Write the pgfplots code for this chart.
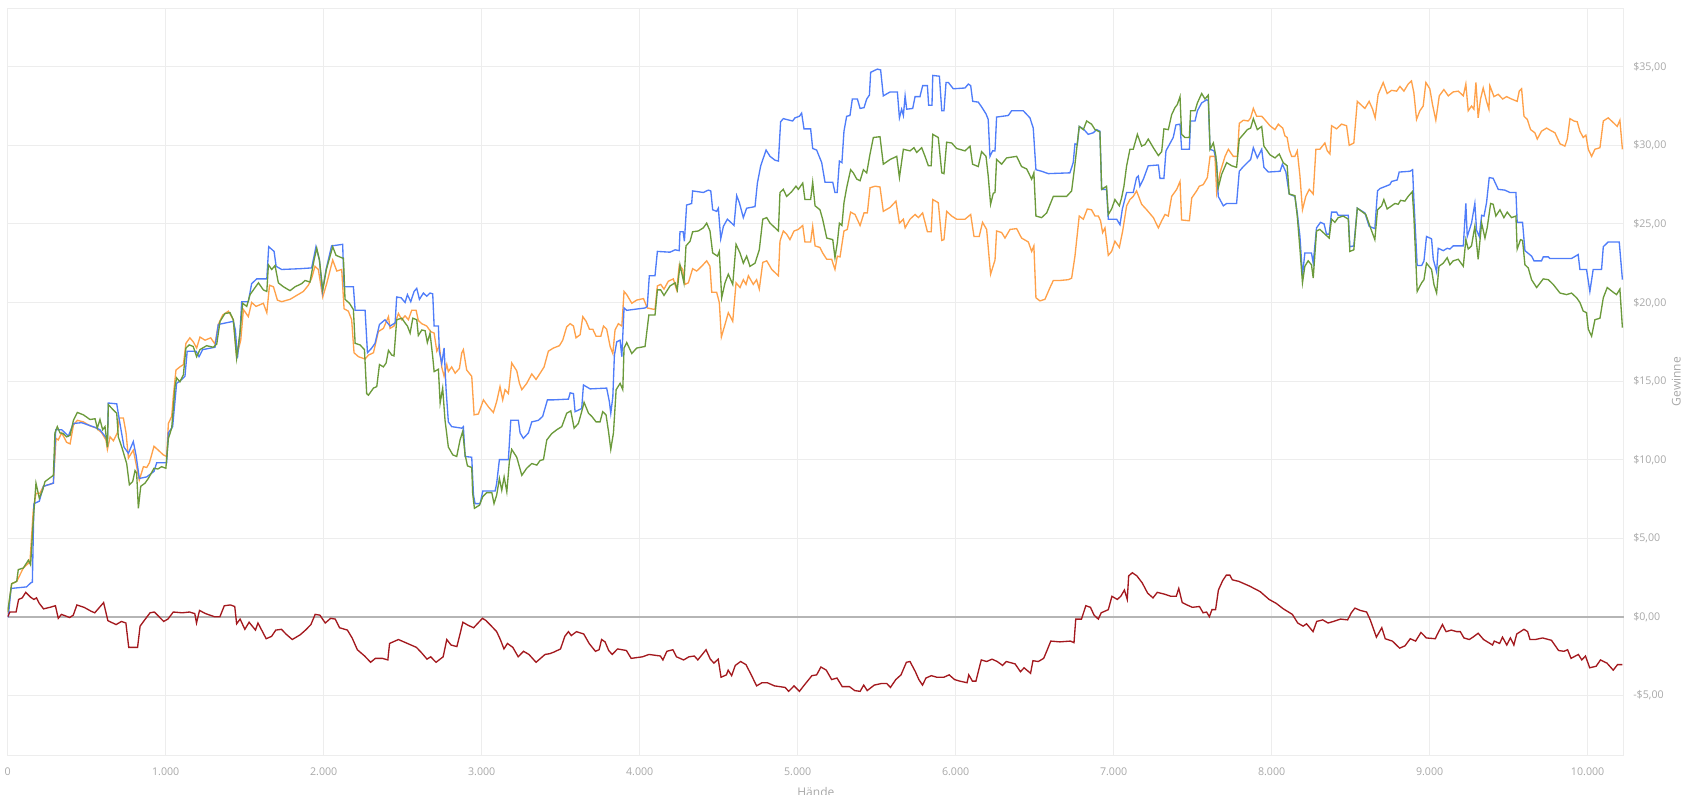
\documentclass[border=0pt]{standalone}
\usepackage{pgfplots}
\pgfplotsset{compat=1.18}
\usepackage{pgfplotstable}
\usepackage{fontspec}
\setmainfont{Open Sans}
\definecolor{cblue}{HTML}{4F7DF9}
\definecolor{corange}{HTML}{FFA14A}
\definecolor{cgreen}{HTML}{6B9A3B}
\definecolor{cred}{HTML}{A3191E}
\definecolor{czero}{HTML}{B5B5B5}
\definecolor{cgrid}{HTML}{EDEDED}
\definecolor{ctext}{HTML}{A8A8A8}

\pgfplotstableread{
x y
0 0
4 0
21 1.8
120 1.9
145 2.15
156 2.2
166 7.2
200 7.35
226 8.3
289 8.5
304 11.9
342 11.9
384 11.5
416 12.3
468 12.35
553 12.05
584 11.9
622 11.4
631 11.05
637 13.6
690 13.55
707 12.5
736 10.8
764 10.4
795 11.15
812 10.3
833 8.8
880 8.9
926 9.25
943 9.8
1006 9.8
1017 11.7
1044 12.1
1069 14.85
1101 15.1
1122 15.3
1136 16.9
1192 16.9
1211 16.55
1234 17.0
1312 17.15
1333 18.6
1428 18.8
1441 18.25
1454 16.45
1470 18.05
1481 20.05
1523 20.05
1544 21.2
1576 21.5
1640 21.5
1652 23.55
1686 23.25
1699 22.3
1734 22.1
1850 22.15
1924 22.2
1951 23.55
1973 22.7
1992 20.7
2015 22.1
2050 23.6
2120 23.7
2129 21.0
2188 21.0
2199 19.5
2262 19.5
2277 16.8
2304 17.1
2325 17.4
2353 18.6
2388 18.9
2420 18.5
2452 18.7
2462 20.35
2490 20.3
2515 20.0
2530 20.5
2551 20.05
2572 20.7
2589 20.9
2606 20.2
2631 20.6
2652 20.4
2673 20.6
2690 20.55
2699 18.5
2726 18.5
2732 16.9
2747 16.1
2762 17.1
2775 14.4
2789 12.4
2810 12.1
2874 12.0
2884 12.1
2895 10.2
2937 10.15
2948 7.75
2958 7.2
2990 7.2
3007 8.0
3085 8.0
3095 8.5
3112 10.0
3169 10.0
3184 12.5
3232 12.5
3243 11.7
3264 11.35
3296 11.7
3317 12.4
3359 12.5
3386 12.75
3416 13.8
3450 13.8
3549 13.85
3560 14.25
3581 14.2
3591 13.05
3633 13.25
3644 14.75
3686 14.5
3791 14.55
3808 13.7
3817 12.95
3830 14.0
3840 16.65
3855 17.5
3876 17.6
3887 16.55
3901 19.65
3918 19.5
4034 19.65
4048 19.75
4061 21.7
4097 21.7
4112 23.25
4192 23.2
4224 23.35
4250 23.3
4255 24.5
4275 24.5
4283 23.9
4297 26.2
4329 26.3
4335 27.1
4403 27.0
4434 27.15
4450 27.1
4462 25.9
4487 25.8
4498 26.0
4513 24.05
4530 24.85
4555 25.3
4582 25.05
4597 24.9
4614 26.8
4631 26.35
4656 25.4
4677 26.0
4730 26.1
4745 27.6
4766 28.7
4800 29.7
4825 29.3
4857 29.05
4878 29.0
4892 31.5
4909 31.7
4968 31.55
4983 31.75
5011 31.85
5025 32.05
5040 31.05
5082 31.05
5095 29.8
5120 29.7
5152 28.9
5173 27.65
5222 27.65
5236 27.0
5250 27.0
5264 29.0
5280 28.9
5293 30.9
5310 31.85
5331 31.9
5346 32.95
5378 32.95
5395 32.35
5420 32.4
5437 32.95
5454 33.2
5462 34.65
5504 34.85
5525 34.8
5542 33.15
5585 33.4
5631 33.4
5644 31.75
5658 32.3
5669 31.9
5680 33.15
5690 32.3
5728 32.35
5743 33.1
5774 33.1
5791 33.8
5821 33.8
5829 32.55
5850 32.55
5855 34.45
5897 34.4
5912 32.2
5926 32.2
5939 34.0
5954 34.0
5985 33.6
6059 33.65
6080 33.9
6095 33.8
6108 32.8
6143 32.75
6164 32.45
6192 32.0
6206 31.65
6217 29.3
6234 29.65
6249 29.65
6259 31.8
6333 31.9
6354 32.2
6428 32.2
6470 31.75
6491 31.1
6508 28.45
6544 28.35
6586 28.2
6723 28.25
6744 28.9
6755 30.1
6770 30.05
6782 31.2
6808 31.05
6839 30.7
6871 30.8
6892 31.0
6913 30.9
6924 27.2
6955 27.2
6966 25.3
7019 25.3
7040 24.95
7055 25.95
7082 27.0
7124 27.0
7145 27.95
7156 28.05
7166 27.4
7188 27.85
7219 28.7
7283 28.75
7293 27.9
7318 27.9
7331 29.65
7377 30.5
7394 31.3
7420 31.35
7430 29.75
7479 29.75
7487 31.55
7515 31.55
7530 32.2
7557 32.7
7588 32.9
7599 32.85
7610 29.75
7635 29.65
7652 28.9
7662 26.75
7694 26.15
7715 26.3
7778 26.3
7795 28.35
7821 28.65
7846 28.9
7867 29.1
7884 29.85
7909 29.2
7937 29.75
7951 28.6
7979 28.3
8053 28.35
8068 28.8
8090 28.3
8111 26.9
8147 26.75
8162 25.7
8179 24.2
8195 21.7
8210 23.15
8252 23.15
8263 22.5
8284 24.75
8309 25.1
8332 25.0
8347 24.35
8364 24.35
8379 25.75
8411 25.75
8421 25.55
8485 25.55
8495 23.55
8520 23.6
8542 26.0
8590 25.7
8617 24.85
8653 24.7
8670 27.1
8685 27.25
8723 27.4
8748 27.5
8759 27.7
8795 27.8
8807 28.3
8875 28.35
8892 28.45
8900 26.55
8921 22.35
8949 22.35
8964 22.65
8980 24.2
9012 24.05
9023 22.75
9044 21.95
9054 23.45
9086 23.3
9111 23.45
9128 23.4
9149 23.6
9213 23.6
9229 26.3
9238 24.2
9265 25.05
9286 26.3
9297 24.6
9314 24.2
9329 25.55
9344 25.5
9360 26.35
9377 27.95
9402 27.9
9434 27.2
9476 27.15
9508 27.0
9546 27.0
9554 25.1
9588 25.1
9603 23.3
9645 22.95
9660 22.65
9708 22.65
9719 22.9
9751 22.9
9761 22.8
9898 22.8
9940 23.05
9951 22.1
9993 22.1
10014 20.7
10035 22.1
10088 22.1
10099 23.55
10130 23.85
10200 23.85
10220 21.45
}\tblue

\pgfplotstableread{
x y
0 0.3
25 2.1
57 2.25
67 3.0
99 3.1
131 3.6
145 3.3
162 6.15
179 8.5
200 7.55
221 8.05
236 8.6
289 9.0
299 11.7
314 12.1
331 11.7
352 11.65
373 11.45
395 11.55
416 12.5
441 13.0
479 12.85
521 12.55
553 12.6
567 12.0
584 12.55
601 11.9
616 12.1
631 10.8
637 13.5
669 13.15
690 12.95
700 11.45
722 10.8
753 9.75
770 8.4
791 8.6
806 9.3
816 9.15
827 6.9
842 8.3
869 8.5
890 8.8
926 9.45
950 9.4
974 9.55
1001 9.45
1017 11.35
1038 12.0
1059 14.65
1069 15.2
1090 14.95
1112 15.4
1128 17.1
1149 17.3
1174 17.2
1196 16.55
1217 17.0
1259 17.25
1301 17.15
1323 17.35
1344 18.8
1375 19.3
1407 19.35
1428 18.9
1449 16.45
1470 18.05
1487 19.95
1513 19.75
1534 20.5
1555 20.8
1587 21.25
1618 20.8
1640 20.7
1650 22.4
1671 22.1
1692 22.35
1713 21.25
1745 21.0
1787 20.75
1819 21.0
1861 21.2
1882 21.4
1913 21.3
1939 22.7
1956 23.45
1973 22.7
1994 20.8
2017 22.1
2057 23.55
2078 23.0
2125 22.8
2135 20.2
2163 19.95
2188 19.55
2199 17.4
2230 17.3
2258 17.0
2272 14.2
2283 14.1
2315 14.55
2336 14.65
2353 16.05
2378 15.9
2395 16.15
2410 16.95
2431 16.65
2445 16.6
2462 18.9
2494 19.0
2515 18.7
2530 18.5
2547 18.05
2564 19.0
2589 18.9
2599 17.9
2621 18.25
2642 18.2
2656 17.45
2673 18.05
2690 16.55
2699 15.6
2726 15.75
2737 13.6
2753 14.55
2768 12.5
2789 10.8
2817 10.3
2842 10.2
2863 11.25
2880 11.8
2895 10.3
2910 9.6
2937 9.5
2943 7.85
2954 6.9
2986 7.1
3007 7.65
3032 7.9
3064 7.9
3078 7.2
3095 7.75
3112 8.8
3127 8.05
3142 8.9
3159 7.95
3175 9.85
3190 10.65
3222 10.15
3254 9.0
3285 9.45
3317 9.75
3349 9.65
3370 9.95
3391 10.0
3412 11.25
3443 11.65
3475 11.9
3507 12.1
3538 12.95
3564 13.1
3585 12.0
3612 12.3
3633 13.05
3648 13.65
3676 12.95
3697 12.75
3724 12.4
3749 12.4
3766 13.05
3787 12.85
3804 11.7
3817 10.65
3834 11.7
3851 14.45
3876 14.85
3893 14.45
3901 17.1
3918 17.45
3950 16.75
3981 17.1
4034 17.2
4058 19.2
4097 19.2
4112 20.8
4133 20.8
4154 20.45
4192 21.05
4224 21.25
4238 20.8
4255 22.4
4280 21.25
4293 23.6
4319 23.9
4335 24.5
4371 24.55
4403 24.75
4424 25.05
4445 24.55
4462 23.15
4492 22.95
4504 23.25
4519 20.3
4540 21.25
4561 21.8
4589 21.15
4610 23.7
4635 23.15
4656 22.5
4677 22.95
4698 22.3
4730 22.5
4757 23.35
4779 25.3
4804 25.4
4825 25.05
4878 24.55
4888 27.0
4909 27.2
4930 26.75
4962 27.05
4989 27.4
5004 27.2
5032 27.6
5046 26.55
5082 26.55
5095 27.65
5110 26.15
5141 25.9
5158 25.3
5184 24.1
5222 24.0
5236 22.85
5251 23.8
5264 25.05
5280 24.9
5293 26.35
5310 27.3
5335 28.45
5352 28.25
5374 27.85
5395 27.75
5416 28.45
5437 28.25
5458 29.45
5479 30.5
5521 30.55
5542 28.8
5585 29.1
5627 29.3
5644 27.95
5669 29.75
5711 29.65
5736 29.85
5753 29.55
5785 29.85
5806 29.3
5827 28.7
5845 28.7
5855 30.7
5890 30.5
5912 28.25
5926 28.2
5943 30.2
5975 30.15
6006 29.8
6059 29.65
6091 29.95
6107 28.8
6143 28.65
6164 29.6
6192 29.3
6206 28.05
6221 26.25
6238 26.95
6249 27.0
6259 29.1
6291 28.8
6322 29.2
6386 29.3
6417 28.65
6449 28.5
6481 27.85
6495 28.25
6508 25.5
6544 25.4
6576 25.7
6618 26.75
6660 26.75
6702 26.75
6734 27.1
6755 28.8
6782 31.2
6808 31.0
6829 31.55
6860 31.35
6882 31.0
6913 30.85
6924 27.2
6955 27.4
6966 25.6
6987 25.95
7008 26.55
7036 26.15
7050 26.65
7065 27.4
7082 28.7
7103 29.75
7124 29.75
7150 30.7
7177 29.95
7198 30.05
7219 30.4
7251 29.85
7283 29.35
7304 29.6
7318 31.05
7346 31.0
7367 31.95
7388 32.4
7403 32.6
7420 33.1
7430 30.7
7451 30.5
7479 30.5
7487 32.2
7515 32.2
7530 32.7
7557 33.3
7578 32.95
7599 33.2
7610 29.75
7631 30.15
7647 29.3
7662 27.3
7683 28.15
7715 28.9
7747 28.7
7778 28.6
7795 30.4
7821 30.7
7846 31.0
7867 31.1
7884 31.7
7909 31.0
7937 31.2
7951 29.95
7989 29.4
8021 29.2
8048 29.45
8073 28.9
8098 28.7
8111 26.9
8147 26.8
8162 25.5
8179 23.4
8195 21.25
8210 22.3
8231 22.65
8252 22.4
8263 21.55
8284 24.55
8305 24.65
8337 24.35
8364 24.1
8379 25.3
8400 25.1
8421 25.4
8453 25.5
8485 25.3
8495 23.25
8520 23.35
8542 26.0
8569 25.8
8596 25.6
8622 24.85
8653 24.0
8670 25.9
8696 26.15
8710 26.55
8731 25.95
8759 26.15
8780 26.3
8801 26.25
8816 26.5
8843 26.45
8864 26.75
8890 27.05
8900 25.5
8921 20.7
8949 21.25
8964 21.45
8980 22.5
9012 22.1
9027 21.15
9044 20.6
9059 22.3
9086 22.5
9111 22.85
9128 22.4
9149 22.65
9181 22.75
9213 22.3
9229 24.0
9244 23.4
9265 23.6
9286 24.85
9307 22.75
9329 25.05
9350 24.1
9364 24.75
9386 26.3
9402 26.25
9419 25.5
9445 25.9
9470 25.4
9491 25.75
9518 25.4
9546 25.5
9554 23.4
9575 24.0
9588 23.95
9603 22.4
9624 22.2
9645 21.45
9677 20.95
9719 21.5
9751 21.45
9782 21.15
9825 20.6
9867 20.5
9898 20.6
9930 20.3
9951 20.0
9972 19.45
9993 19.35
10004 18.3
10025 17.85
10046 18.9
10078 19.0
10099 20.3
10124 20.95
10162 20.65
10183 20.5
10204 20.85
10220 18.4
}\tgreen

\pgfplotstableread{
x y
0 0.2
25 2.1
57 2.25
99 3.1
141 3.5
162 6.8
179 7.85
204 7.85
226 8.3
289 8.5
306 11.35
320 11.25
342 11.7
373 11.1
395 11.0
416 12.2
441 12.5
479 12.4
521 12.15
563 12.0
595 11.7
622 11.25
631 10.65
648 11.45
669 11.2
694 11.7
707 12.65
732 12.65
749 11.7
764 10.1
795 10.6
816 9.55
833 8.7
859 9.55
880 9.5
897 9.8
926 10.85
953 10.6
985 10.3
1006 10.2
1017 12.3
1038 12.75
1048 14.0
1065 15.7
1090 15.9
1112 16.05
1128 17.4
1153 17.75
1174 17.5
1196 17.1
1217 17.8
1249 17.6
1285 17.75
1312 17.35
1333 18.6
1361 19.2
1397 19.45
1428 18.9
1449 16.55
1475 17.6
1492 19.55
1523 19.1
1544 20.0
1572 19.75
1618 19.95
1640 19.35
1657 21.1
1682 21.0
1707 20.15
1734 20.05
1787 20.2
1829 20.45
1871 20.7
1903 21.1
1924 21.55
1945 22.3
1966 22.1
1994 20.35
2019 21.2
2057 22.7
2083 22.0
2114 22.1
2129 19.6
2156 19.45
2177 18.9
2192 16.8
2220 16.55
2262 16.4
2283 16.65
2315 16.8
2346 18.15
2378 18.35
2410 19.1
2420 18.35
2445 18.5
2473 19.3
2494 18.9
2515 19.15
2536 18.9
2557 19.5
2585 19.5
2599 18.85
2621 18.65
2652 18.5
2677 18.15
2699 18.05
2716 16.9
2732 17.25
2747 15.9
2762 15.3
2779 16.05
2789 15.6
2810 15.9
2832 15.5
2859 15.8
2874 16.8
2884 17.0
2905 15.7
2937 15.3
2952 12.85
2979 12.9
3011 13.8
3043 13.35
3074 13.0
3095 13.7
3116 14.65
3133 13.8
3148 14.45
3169 14.2
3190 16.15
3222 15.65
3239 14.85
3254 14.45
3285 14.85
3317 15.45
3344 15.1
3370 15.5
3395 15.9
3422 16.9
3454 17.1
3492 17.25
3513 17.6
3538 18.45
3560 18.65
3581 18.5
3597 17.75
3623 17.95
3640 19.1
3661 18.8
3682 18.3
3703 18.3
3724 17.85
3754 17.85
3771 18.5
3791 18.3
3813 17.2
3830 16.75
3844 18.25
3865 18.65
3887 18.5
3901 20.7
3918 20.5
3950 19.95
3981 20.15
4024 20.25
4048 19.65
4097 19.55
4112 21.05
4133 21.15
4154 20.85
4181 21.35
4213 21.5
4234 20.8
4251 22.4
4272 22.1
4287 21.15
4308 21.25
4335 22.15
4361 22.0
4392 22.3
4424 22.65
4445 22.3
4456 20.65
4487 20.65
4504 20.0
4517 17.8
4540 18.6
4561 19.35
4589 18.8
4610 21.25
4635 20.95
4656 21.45
4673 21.15
4688 21.7
4719 21.15
4740 21.45
4757 20.85
4779 22.55
4804 22.65
4836 22.1
4878 21.7
4888 23.9
4909 24.55
4930 24.35
4951 24.0
4977 24.55
5004 24.65
5032 24.9
5046 23.85
5082 23.85
5095 24.85
5110 23.6
5141 23.5
5158 23.15
5184 22.75
5215 22.75
5236 22.1
5251 22.95
5268 22.9
5293 24.55
5314 24.65
5335 25.75
5363 25.6
5395 24.9
5420 25.7
5441 25.7
5458 27.3
5490 27.4
5521 27.35
5542 25.8
5585 26.05
5622 26.45
5644 25.05
5669 25.3
5680 24.75
5711 25.3
5743 25.6
5764 25.4
5791 25.7
5821 24.5
5845 24.5
5855 26.55
5890 26.35
5912 23.95
5926 24.0
5943 25.8
5975 25.5
6006 25.3
6059 25.3
6095 25.6
6116 24.2
6149 24.2
6170 25.1
6196 24.65
6221 21.8
6249 22.7
6259 24.55
6291 24.45
6312 24.1
6344 24.65
6386 24.7
6417 24.1
6460 23.85
6481 23.25
6495 23.6
6508 20.3
6533 20.1
6565 20.2
6597 20.95
6618 21.4
6660 21.4
6713 21.45
6734 21.55
6755 22.95
6782 25.5
6808 25.3
6833 25.95
6860 25.9
6882 25.5
6903 25.5
6917 25.2
6930 24.45
6945 24.75
6966 23.0
6987 23.25
7008 23.9
7036 23.5
7057 24.55
7082 26.15
7103 26.55
7124 26.75
7145 27.1
7177 26.25
7209 25.9
7251 25.4
7283 24.75
7304 25.2
7325 25.6
7346 25.5
7367 26.75
7399 27.2
7420 27.7
7430 25.25
7479 25.2
7494 26.65
7525 27.1
7542 27.4
7567 27.5
7593 27.95
7610 29.3
7641 29.3
7652 27.0
7673 28.25
7705 29.3
7726 29.75
7757 29.3
7783 29.3
7795 31.4
7821 31.6
7852 31.55
7867 31.75
7884 32.35
7905 31.85
7937 31.85
7951 31.7
7989 31.25
8021 31.0
8042 31.35
8052 31.25
8070 31.1
8084 30.6
8098 30.5
8111 29.75
8126 29.3
8147 29.3
8162 29.65
8179 28.05
8195 25.9
8216 26.75
8238 27.2
8263 26.9
8280 29.75
8305 29.75
8337 30.15
8352 29.65
8369 29.45
8379 31.25
8411 31.05
8442 31.35
8474 31.25
8491 30.0
8520 30.15
8542 32.8
8590 32.35
8617 32.8
8639 32.3
8655 31.75
8674 33.25
8706 34.0
8731 33.3
8759 33.5
8791 33.45
8812 33.75
8837 33.45
8864 33.9
8885 34.1
8900 33.35
8917 31.65
8938 32.2
8959 32.5
8976 34.0
9001 33.6
9018 32.6
9039 31.6
9061 33.15
9090 33.55
9118 33.15
9149 33.4
9181 33.45
9213 33.15
9229 33.9
9244 32.2
9265 32.5
9280 32.3
9293 34.0
9307 31.75
9322 32.95
9339 33.65
9360 32.8
9375 32.3
9381 33.8
9407 33.1
9434 33.25
9462 32.95
9487 33.1
9518 32.95
9554 32.8
9567 33.45
9582 33.6
9597 31.85
9618 31.65
9639 31.0
9666 30.8
9681 30.4
9708 30.9
9740 31.1
9765 30.95
9793 30.8
9825 30.1
9856 29.95
9871 30.4
9888 31.7
9913 31.55
9934 31.5
9951 30.9
9972 30.5
9989 30.65
10004 29.75
10025 29.3
10046 29.75
10078 29.85
10099 31.55
10130 31.75
10162 31.45
10187 31.2
10204 31.6
10220 29.75
}\torange

\pgfplotstableread{
x y
0 0
14 0.3
53 0.3
69 1.1
92 1.2
114 1.55
144 1.25
166 1.1
182 1.2
200 0.85
227 0.5
268 0.6
302 0.7
320 -0.1
340 0.15
392 -0.05
415 0.1
438 0.75
483 0.6
528 0.35
551 0.25
607 0.9
634 -0.25
686 -0.5
720 -0.3
748 -0.4
766 -1.95
822 -1.95
838 -0.6
867 -0.2
901 0.25
928 0.3
958 0
987 -0.3
1014 -0.15
1048 0.3
1105 0.25
1150 0.3
1184 0.2
1195 -0.4
1214 0.4
1252 0.2
1309 0
1343 0
1371 0.7
1410 0.75
1437 0.65
1449 -0.45
1471 -0.15
1501 -0.8
1528 -0.35
1568 -0.85
1584 -0.4
1636 -1.4
1670 -1.25
1697 -0.85
1733 -0.8
1761 -1.1
1801 -1.45
1851 -1.15
1885 -0.85
1919 -0.5
1946 0.15
1976 0.1
2010 -0.4
2044 -0.1
2073 -0.15
2100 -0.7
2150 -0.85
2180 -1.35
2213 -2.1
2259 -2.5
2297 -2.9
2327 -2.65
2372 -2.65
2406 -2.75
2417 -1.7
2473 -1.45
2530 -1.7
2587 -1.95
2620 -2.3
2654 -2.7
2677 -2.55
2711 -2.9
2756 -2.55
2779 -1.45
2806 -1.8
2843 -1.9
2858 -1.3
2881 -0.35
2915 -0.55
2949 -0.7
3005 -0.1
3028 -0.25
3062 -0.6
3095 -0.95
3118 -1.45
3141 -2.05
3163 -1.7
3197 -1.95
3231 -2.55
3265 -2.2
3299 -2.4
3344 -2.9
3401 -2.4
3431 -2.35
3457 -2.25
3499 -2.05
3526 -1.25
3549 -0.95
3567 -1.2
3600 -0.95
3646 -1.1
3680 -1.7
3720 -2.2
3743 -2.1
3759 -1.45
3781 -1.6
3804 -2.15
3826 -2.4
3860 -2.05
3916 -2.15
3946 -2.65
4018 -2.55
4059 -2.4
4131 -2.5
4147 -2.75
4172 -2.2
4210 -2.1
4233 -2.55
4278 -2.75
4312 -2.55
4346 -2.5
4368 -2.75
4420 -2.1
4447 -2.7
4470 -2.95
4497 -2.7
4515 -3.85
4549 -3.7
4560 -3.4
4582 -3.75
4605 -3.1
4639 -2.85
4673 -3.05
4706 -3.7
4740 -4.4
4774 -4.2
4808 -4.2
4853 -4.4
4921 -4.5
4943 -4.75
4977 -4.4
5011 -4.75
5034 -4.45
5090 -3.75
5120 -3.7
5147 -3.2
5181 -3.4
5215 -4.0
5249 -3.9
5282 -4.45
5328 -4.45
5361 -4.7
5395 -4.75
5418 -4.35
5440 -4.7
5485 -4.35
5530 -4.25
5564 -4.25
5587 -4.5
5621 -4.0
5654 -3.7
5688 -2.9
5711 -2.85
5745 -3.5
5767 -4.0
5790 -4.35
5812 -3.9
5846 -3.75
5880 -3.85
5925 -3.85
5959 -3.7
5993 -4.0
6027 -4.1
6072 -4.2
6083 -3.7
6106 -4.1
6128 -4.1
6162 -2.75
6196 -2.85
6230 -2.7
6263 -2.85
6297 -3.1
6320 -2.85
6376 -3.0
6410 -3.5
6433 -3.25
6474 -3.6
6489 -2.8
6523 -2.85
6557 -2.65
6580 -2.1
6602 -1.55
6659 -1.6
6726 -1.55
6749 -1.65
6760 -0.15
6796 -0.15
6824 0.7
6853 0.6
6876 0.1
6903 -0.15
6921 0.25
6966 0.45
6989 1.3
7023 1.1
7045 1.3
7068 1.7
7086 1.1
7095 2.6
7118 2.8
7147 2.6
7181 2.15
7215 1.5
7249 1.2
7276 1.55
7317 1.45
7362 1.3
7396 1.3
7412 1.8
7434 0.9
7464 0.75
7498 0.6
7543 0.65
7566 0.25
7588 0.3
7606 0
7622 0.45
7645 0.45
7663 1.7
7690 2.3
7713 2.65
7735 2.65
7751 2.35
7792 2.25
7860 1.95
7927 1.6
7984 1.1
8029 0.85
8074 0.5
8131 0.15
8165 -0.4
8199 -0.6
8221 -0.45
8262 -0.95
8285 -0.3
8323 -0.2
8357 -0.4
8391 -0.3
8436 -0.15
8481 -0.2
8504 0.25
8527 0.55
8561 0.4
8601 0.3
8624 -0.2
8663 -1.3
8697 -0.7
8719 -1.4
8764 -1.55
8810 -2.0
8844 -1.85
8877 -1.4
8911 -1.55
8945 -1.0
8979 -1.35
9036 -1.4
9047 -1.15
9081 -0.5
9104 -0.95
9137 -0.85
9172 -0.95
9194 -0.95
9217 -1.35
9251 -1.45
9274 -1.3
9307 -1.05
9341 -1.45
9398 -1.8
9409 -1.55
9443 -1.7
9461 -1.3
9488 -1.8
9511 -1.35
9533 -1.8
9551 -1.1
9597 -0.8
9620 -0.95
9635 -1.45
9669 -1.45
9715 -1.35
9771 -1.5
9816 -2.15
9850 -2.2
9873 -2.1
9895 -2.65
9941 -2.4
9963 -2.75
9986 -2.5
10013 -3.25
10054 -3.15
10081 -2.75
10122 -2.95
10162 -3.4
10189 -3.05
10220 -3.05
}\tred

\begin{document}
\begin{tikzpicture}
\begin{axis}[
  name=main,
  at={(0,0)}, anchor=south west,
  scale only axis,
  width=1212.2pt, height=560pt,
  xmin=0, xmax=10230,
  ymin=-8.8, ymax=38.72,
  axis line style={cgrid, line width=0.75pt},
  major tick length=0pt,
  grid=major,
  grid style={cgrid, line width=0.75pt},
  xtick={0,1000,2000,3000,4000,5000,6000,7000,8000,9000,10000},
  xticklabels={0,1.000,2.000,3.000,4.000,5.000,6.000,7.000,8.000,9.000,10.000},
  ytick={-5,0,5,10,15,20,25,30,35},
  yticklabels={{-\$5,00},{\$0,00},{\$5,00},{\$10,00},{\$15,00},{\$20,00},{\$25,00},{\$30,00},{\$35,00}},
  yticklabel pos=right,
  tick label style={font=\fontsize{8}{9.6}\selectfont, text=ctext},
  xticklabel style={anchor=base, inner sep=0pt, yshift=-15.6pt},
  yticklabel style={anchor=mid west, inner sep=0pt, xshift=6.75pt},
  extra y ticks={0},
  extra y tick labels={},
  extra y tick style={grid style={czero, line width=1.3pt}},
  clip=true,
]
\addplot[corange, line width=1pt] table[x=x,y=y] {\torange};
\addplot[cblue, line width=1pt] table[x=x,y=y] {\tblue};
\addplot[cgreen, line width=1pt] table[x=x,y=y] {\tgreen};
\addplot[cred, line width=1pt] table[x=x,y=y] {\tred};
\end{axis}
\node[xshift=42.5pt, rotate=90, anchor=base, inner sep=0pt, text=ctext, font=\fontsize{9}{10.8}\selectfont] at (main.east) {Gewinne};
\node[yshift=-31.2pt, anchor=base, inner sep=0pt, text=ctext, font=\fontsize{9}{10.8}\selectfont] at (main.south) {Hände};
\pgfresetboundingbox
\path[use as bounding box] (-5.78pt,-29.25pt) rectangle ++(1261.5pt,595.5pt);
\end{tikzpicture}
\end{document}
